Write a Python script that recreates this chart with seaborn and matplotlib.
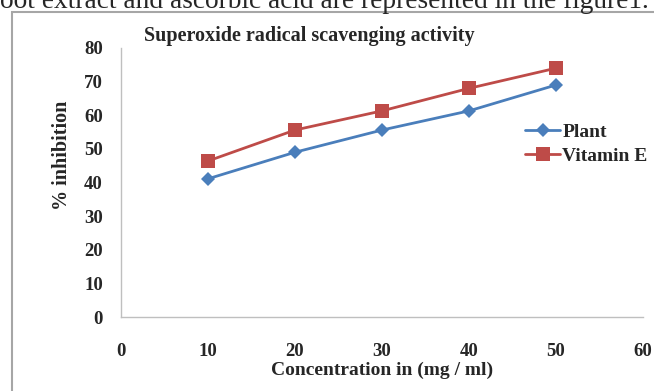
import matplotlib
matplotlib.use("Agg")
import matplotlib.pyplot as plt
import seaborn as sns
import pandas as pd
from matplotlib.patches import Rectangle

concentration = [10, 20, 30, 40, 50]
plant = [41.1, 49.0, 55.6, 61.3, 69.0]
vitamin_e = [46.4, 55.6, 61.3, 68.0, 74.0]
series_names = ["Plant", "Vitamin E"]
title = "Superoxide radical scavenging activity"
xlabel = "Concentration in (mg / ml)"
ylabel = "% inhibition"
top_text = "oot extract and ascorbic acid are represented in the figure1."

df = pd.DataFrame({
    "conc": concentration * 2,
    "val": plant + vitamin_e,
    "series": [series_names[0]] * len(plant) + [series_names[1]] * len(vitamin_e),
})

sns.set_theme(style="white")
plt.rcParams["font.family"] = ["Liberation Serif", "DejaVu Serif"]

fig = plt.figure(figsize=(6.54, 3.91), dpi=100)
ax = fig.add_axes([121/654, 1-317/391, (643-121)/654, (317-48)/391])

palette = {"Plant": "#4A7EBB", "Vitamin E": "#BE4B48"}
markers = {"Plant": "D", "Vitamin E": "s"}
sns.lineplot(data=df, x="conc", y="val", hue="series", style="series",
             palette=palette, markers=markers, dashes=False, linewidth=2,
             markersize=9.5, markeredgewidth=0, ax=ax)
for l in ax.lines:
    if l.get_marker() == "D":
        l.set_markersize(7)

ax.set_xlim(0, 60)
ax.set_ylim(0, 80)
ax.set_xticks(range(0, 61, 10))
ax.set_yticks(range(0, 81, 10))
for s in ["top", "right"]:
    ax.spines[s].set_visible(False)
for s in ["left", "bottom"]:
    ax.spines[s].set_color("#BFBFBF")
    ax.spines[s].set_linewidth(1)
ax.tick_params(axis="both", which="both", direction="out", length=4, color="#BFBFBF",
               labelsize=13.5, pad=9)
ax.tick_params(axis="x", pad=15)
for t in ax.get_xticklabels() + ax.get_yticklabels():
    t.set_fontweight("bold")
ax.set_xlabel(xlabel, fontsize=14, fontweight="bold", labelpad=1)
ax.set_ylabel(ylabel, fontsize=14.5, fontweight="bold")
ax.yaxis.set_label_coords(-0.094, 0.602)
ax.set_title(title, fontsize=14.5, fontweight="bold", x=0.36, y=1.025, pad=0)

leg = ax.legend(loc="upper left", bbox_to_anchor=(0.76, 0.75), frameon=False,
                fontsize=14, handlelength=1.8, handletextpad=0.1, labelspacing=0.35,
                borderaxespad=0)
for t in leg.get_texts():
    t.set_fontweight("bold")

fig.patches.append(Rectangle((12/654, -0.1), 1.0, 1 - 12/391 + 0.1, transform=fig.transFigure,
                             fill=False, edgecolor="#A6A6A6", linewidth=1.5))
fig.text(0.0, 1 - 8/391, top_text, fontsize=19.7, ha="left", va="baseline",
         family=["Liberation Serif"])

fig.savefig("out.png", dpi=100)
